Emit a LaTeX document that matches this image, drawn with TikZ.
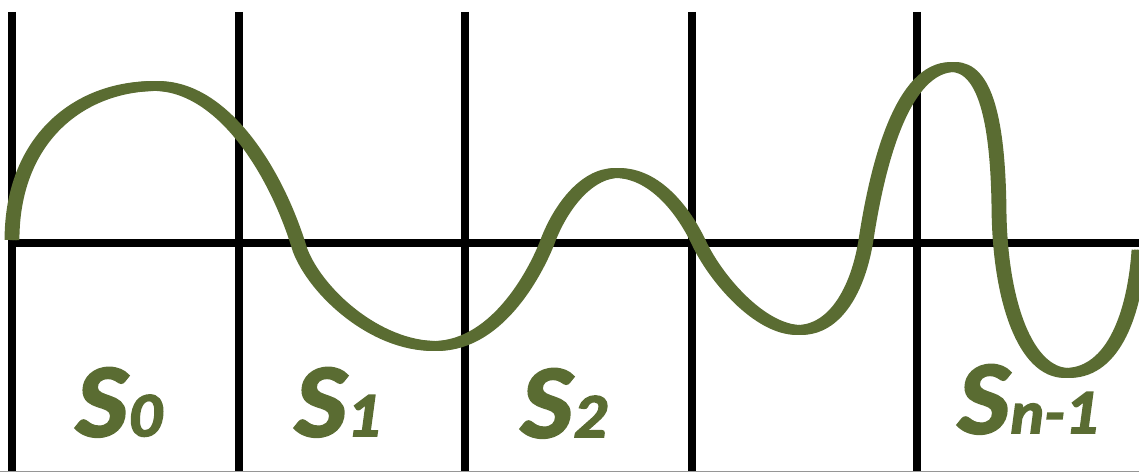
\documentclass[tikz,border=0pt]{standalone}
\usepackage{fontspec}
\setmainfont{Lato}
\newfontfamily\lblfont[BoldItalicFeatures={FakeBold=3, FakeStretch=1.1}]{Lato}
\definecolor{olive}{RGB}{90,108,50}
\definecolor{edgegray}{RGB}{150,150,150}
\tikzset{
  gridline/.style={line width=4.2pt, black},
  axisline/.style={line width=4pt, black},
  wave/.style={line width=5.6pt, olive, line join=round},
  lbl/.style={anchor=base west, inner sep=0pt, outer sep=0pt, text=olive, font=\lblfont\bfseries\itshape},
}
\newcommand{\bigS}{{\fontsize{53}{53}\selectfont S}}
\newcommand{\subtxt}[1]{{\fontsize{32}{32}\selectfont #1}}
\begin{document}
\begin{tikzpicture}[x=0.02cm, y=-0.02cm]
\useasboundingbox (0,0) rectangle (1139,472);
% grid
\foreach \gx/\nm in {12/v0, 239/v1, 465/v2, 692/v3, 917/v4} {
  \coordinate (\nm top) at (\gx,12);
  \coordinate (\nm bot) at (\gx,472);
  \draw[gridline] (\nm top) -- (\nm bot);
}
\coordinate (axL) at (12,243);
\coordinate (axR) at (1139,243);
\draw[axisline] (axL) -- (axR);
\coordinate (bl) at (0,471.3);
\coordinate (br) at (1139,471.3);
\draw[edgegray, line width=0.8pt] (bl) -- (br);
% wave drawn three times with a horizontal offset to imitate a broad pen
\foreach \dx in {-2.5, 0, 2.5} {
\draw[wave, xshift=\dx*0.02cm]
  (12,240) .. controls (12,140) and (78,86) .. (156,86)
  .. controls (222,86) and (276,170) .. (300,250)
  .. controls (316,292) and (375,346) .. (435,346)
  .. controls (500,346) and (538,266) .. (547,243)
  .. controls (559,210) and (585,173) .. (617,173)
  .. controls (655,173) and (684,211) .. (699,243)
  .. controls (716,279) and (760,330) .. (799,330)
  .. controls (835,330) and (858,290) .. (866,240)
  .. controls (878,161) and (903,67) .. (953,67)
  .. controls (985,67) and (998,120) .. (999,210)
  .. controls (1000,300) and (1025,373) .. (1067,373)
  .. controls (1115,373) and (1135,310) .. (1139,250);
}
% labels
\node[lbl] (s0) at (76,436) {\bigS\subtxt{0}};
\node[lbl] (s1) at (295,436) {\bigS\subtxt{1}};
\node[lbl] (s2) at (521,437) {\bigS\subtxt{2}};
\node[lbl] (sn) at (958,433) {\bigS\subtxt{n-1}};
\end{tikzpicture}
\end{document}
